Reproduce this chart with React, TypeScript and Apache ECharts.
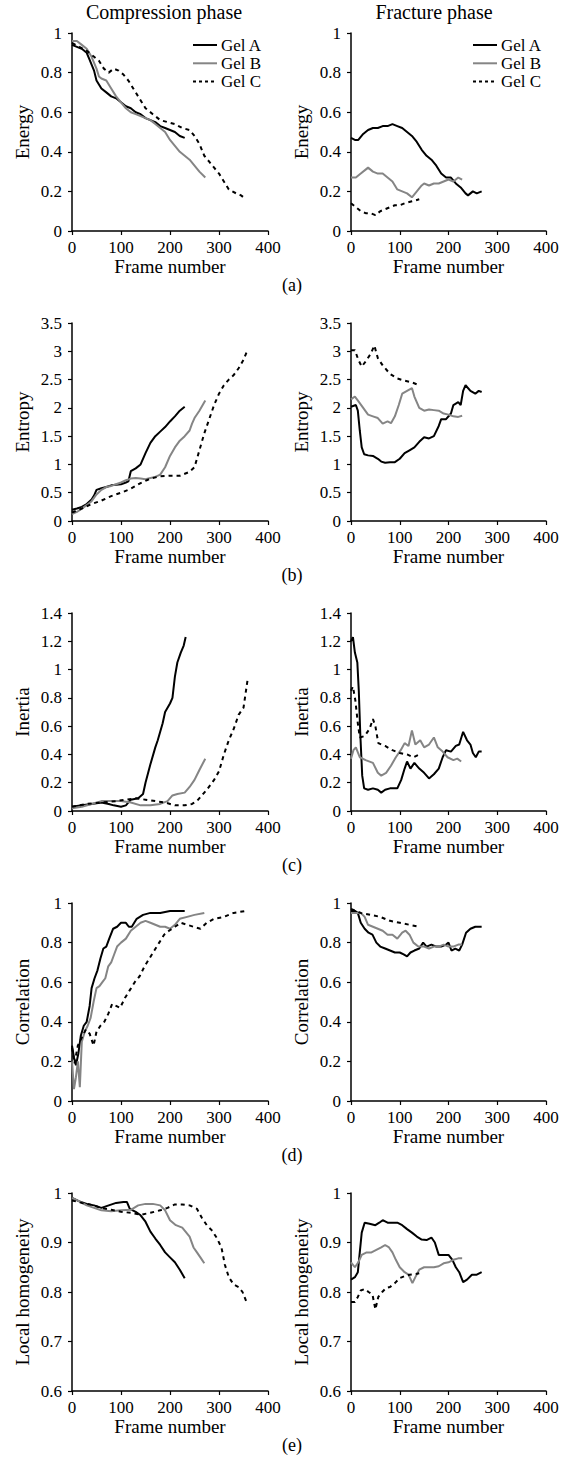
import React, { useEffect, useRef } from "react";
import * as echarts from "echarts";

// ---------- DATA ----------
const seriesNames = ["Gel A", "Gel B", "Gel C"];
const columnTitles = ["Compression phase", "Fracture phase"];
const rowMetrics = ["Energy", "Entropy", "Inertia", "Correlation", "Local homogeneity"];
const rowLabels = ["(a)", "(b)", "(c)", "(d)", "(e)"];
const xTicks = [0, 100, 200, 300, 400];
const yMins = [0, 0, 0, 0, 0.6];
const yMaxs = [1, 3.5, 1.4, 1, 1];
const yIntervals = [0.2, 0.5, 0.2, 0.2, 0.1];

// (a) Energy
const compEnergyA = [[0,0.94],[10,0.93],[20,0.92],[30,0.9],[35,0.87],[40,0.84],[45,0.81],[50,0.76],[55,0.74],[60,0.72],[70,0.7],[80,0.68],[90,0.67],[100,0.65],[110,0.63],[120,0.62],[130,0.6],[140,0.59],[150,0.57],[160,0.56],[170,0.55],[180,0.53],[190,0.52],[200,0.51],[210,0.5],[220,0.48],[230,0.47]];
const compEnergyB = [[0,0.96],[10,0.96],[20,0.94],[30,0.92],[40,0.88],[50,0.82],[55,0.78],[60,0.77],[70,0.76],[80,0.72],[90,0.68],[100,0.65],[110,0.62],[120,0.6],[130,0.59],[140,0.58],[150,0.57],[160,0.56],[170,0.54],[180,0.52],[190,0.5],[200,0.46],[210,0.43],[220,0.4],[230,0.38],[240,0.36],[250,0.33],[260,0.3],[272,0.27]];
const compEnergyC = [[0,0.95],[15,0.93],[30,0.91],[45,0.88],[55,0.86],[65,0.82],[75,0.8],[85,0.82],[95,0.81],[105,0.79],[115,0.76],[125,0.72],[135,0.68],[150,0.62],[165,0.59],[180,0.56],[195,0.55],[210,0.54],[225,0.52],[240,0.51],[250,0.48],[260,0.44],[270,0.38],[280,0.35],[290,0.32],[300,0.29],[310,0.25],[320,0.21],[335,0.19],[345,0.18],[355,0.16]];
const fracEnergyA = [[0,0.47],[8,0.46],[15,0.46],[25,0.49],[35,0.51],[45,0.52],[55,0.52],[65,0.53],[75,0.53],[85,0.54],[95,0.53],[105,0.52],[115,0.5],[125,0.48],[135,0.45],[145,0.41],[155,0.38],[165,0.36],[175,0.33],[185,0.29],[195,0.27],[205,0.27],[215,0.24],[225,0.22],[235,0.19],[240,0.18],[250,0.2],[258,0.19],[268,0.2]];
const fracEnergyB = [[0,0.27],[10,0.27],[20,0.29],[30,0.31],[35,0.32],[45,0.3],[55,0.29],[65,0.29],[75,0.27],[85,0.25],[95,0.21],[105,0.2],[115,0.19],[125,0.17],[135,0.2],[145,0.23],[150,0.24],[160,0.23],[170,0.24],[180,0.24],[190,0.25],[200,0.26],[210,0.25],[220,0.27],[228,0.26]];
const fracEnergyC = [[0,0.14],[10,0.12],[20,0.1],[30,0.09],[40,0.09],[50,0.08],[60,0.1],[70,0.11],[80,0.12],[90,0.13],[100,0.13],[110,0.14],[125,0.15],[140,0.16]];

// (b) Entropy
const compEntropyA = [[0,0.2],[10,0.22],[20,0.25],[30,0.3],[40,0.38],[45,0.45],[50,0.55],[60,0.58],[70,0.6],[80,0.63],[90,0.64],[100,0.65],[110,0.68],[115,0.7],[120,0.88],[130,0.93],[140,1.0],[150,1.2],[160,1.38],[170,1.5],[180,1.58],[190,1.66],[200,1.76],[210,1.85],[220,1.95],[230,2.02]];
const compEntropyB = [[0,0.12],[10,0.16],[20,0.22],[30,0.28],[40,0.35],[50,0.47],[60,0.55],[70,0.6],[80,0.62],[90,0.65],[100,0.68],[110,0.72],[120,0.75],[130,0.76],[140,0.75],[150,0.74],[160,0.76],[170,0.78],[180,0.82],[190,0.95],[200,1.15],[210,1.3],[220,1.42],[230,1.5],[240,1.6],[245,1.72],[250,1.82],[260,1.95],[272,2.13]];
const compEntropyC = [[0,0.15],[20,0.22],[40,0.3],[60,0.36],[80,0.44],[100,0.5],[120,0.57],[140,0.67],[160,0.75],[180,0.79],[200,0.8],[220,0.8],[240,0.87],[250,0.95],[260,1.25],[270,1.55],[280,1.8],[290,2.05],[300,2.25],[310,2.4],[320,2.5],[330,2.58],[340,2.7],[350,2.85],[358,3.02]];
const fracEntropyA = [[0,2.02],[10,2.05],[14,1.95],[18,1.6],[22,1.3],[27,1.18],[35,1.16],[45,1.15],[55,1.1],[62,1.05],[70,1.03],[80,1.04],[90,1.04],[100,1.1],[110,1.2],[120,1.25],[130,1.3],[140,1.4],[150,1.48],[160,1.46],[170,1.5],[180,1.68],[185,1.8],[195,1.8],[205,1.9],[210,2.05],[220,2.1],[225,2.05],[230,2.3],[235,2.4],[245,2.3],[255,2.25],[262,2.3],[268,2.28]];
const fracEntropyB = [[0,2.15],[8,2.2],[15,2.12],[25,2.0],[35,1.88],[45,1.85],[55,1.82],[65,1.72],[75,1.76],[82,1.73],[90,1.85],[98,2.05],[105,2.25],[115,2.3],[125,2.35],[130,2.2],[140,2.0],[150,1.95],[160,1.97],[170,1.96],[180,1.95],[190,1.9],[200,1.88],[210,1.85],[220,1.84],[228,1.86]];
const fracEntropyC = [[0,3.02],[8,3.02],[15,2.85],[22,2.73],[30,2.82],[40,2.95],[48,3.1],[55,2.88],[65,2.75],[80,2.6],[95,2.52],[110,2.48],[125,2.45],[140,2.4]];

// (c) Inertia
const compInertiaA = [[0,0.03],[20,0.04],[40,0.05],[60,0.06],[75,0.05],[85,0.04],[100,0.03],[110,0.04],[120,0.08],[135,0.09],[145,0.12],[150,0.2],[160,0.33],[170,0.45],[175,0.5],[185,0.62],[190,0.7],[200,0.76],[205,0.8],[210,0.95],[215,1.05],[222,1.12],[228,1.17],[232,1.23]];
const compInertiaB = [[0,0.02],[20,0.03],[40,0.05],[60,0.07],[80,0.07],[100,0.07],[120,0.06],[140,0.04],[160,0.04],[180,0.05],[195,0.07],[205,0.11],[215,0.12],[230,0.13],[240,0.17],[250,0.22],[260,0.29],[272,0.37]];
const compInertiaC = [[0,0.03],[30,0.05],[60,0.06],[90,0.07],[110,0.08],[130,0.09],[150,0.08],[170,0.07],[190,0.06],[210,0.04],[230,0.04],[245,0.05],[255,0.07],[265,0.11],[275,0.15],[290,0.22],[300,0.28],[310,0.4],[320,0.5],[330,0.58],[340,0.68],[350,0.73],[358,0.92]];
const fracInertiaA = [[0,1.2],[4,1.23],[8,1.12],[13,1.05],[16,0.85],[19,0.55],[23,0.25],[27,0.16],[35,0.15],[45,0.16],[55,0.15],[62,0.13],[70,0.15],[80,0.16],[95,0.16],[103,0.22],[110,0.3],[115,0.35],[122,0.3],[130,0.34],[140,0.3],[150,0.27],[160,0.23],[170,0.26],[180,0.3],[188,0.38],[195,0.43],[205,0.42],[215,0.46],[222,0.47],[230,0.56],[238,0.5],[245,0.47],[250,0.41],[256,0.38],[262,0.42],[268,0.42]];
const fracInertiaB = [[0,0.37],[5,0.43],[10,0.45],[18,0.38],[30,0.36],[45,0.34],[55,0.27],[62,0.25],[72,0.27],[82,0.32],[92,0.38],[102,0.43],[110,0.48],[118,0.46],[125,0.57],[132,0.47],[142,0.5],[150,0.45],[160,0.47],[170,0.52],[178,0.45],[188,0.42],[198,0.38],[210,0.36],[218,0.37],[226,0.35]];
const fracInertiaC = [[0,0.85],[4,0.88],[9,0.78],[14,0.62],[18,0.52],[28,0.53],[38,0.58],[45,0.65],[50,0.6],[56,0.48],[70,0.46],[85,0.43],[100,0.41],[115,0.4],[128,0.38],[140,0.4]];

// (d) Correlation
const compCorrA = [[0,0.28],[4,0.22],[8,0.18],[13,0.24],[18,0.33],[24,0.38],[30,0.4],[36,0.48],[40,0.57],[46,0.62],[52,0.66],[58,0.72],[64,0.77],[70,0.78],[76,0.82],[84,0.87],[92,0.88],[100,0.9],[110,0.9],[116,0.88],[122,0.88],[132,0.92],[145,0.94],[160,0.95],[180,0.95],[200,0.96],[215,0.96],[230,0.96]];
const compCorrB = [[0,0.2],[4,0.06],[8,0.12],[12,0.2],[16,0.07],[20,0.3],[26,0.35],[32,0.38],[38,0.42],[44,0.5],[50,0.57],[56,0.58],[62,0.6],[68,0.62],[74,0.68],[80,0.7],[86,0.74],[92,0.78],[100,0.8],[110,0.82],[120,0.86],[130,0.88],[140,0.9],[150,0.91],[160,0.9],[170,0.89],[180,0.88],[190,0.88],[200,0.87],[210,0.89],[220,0.92],[235,0.93],[250,0.94],[270,0.95]];
const compCorrC = [[0,0.27],[5,0.19],[12,0.28],[20,0.32],[28,0.36],[36,0.34],[44,0.28],[50,0.35],[58,0.38],[66,0.4],[74,0.44],[82,0.49],[90,0.48],[98,0.47],[108,0.52],[118,0.56],[128,0.6],[138,0.63],[148,0.68],[158,0.72],[168,0.76],[178,0.8],[188,0.84],[198,0.86],[210,0.88],[222,0.9],[235,0.89],[248,0.88],[262,0.87],[275,0.9],[290,0.92],[310,0.93],[330,0.95],[355,0.96]];
const fracCorrA = [[0,0.96],[8,0.96],[14,0.95],[20,0.9],[28,0.87],[36,0.85],[44,0.84],[52,0.8],[60,0.78],[70,0.77],[80,0.76],[90,0.75],[100,0.75],[108,0.74],[115,0.73],[122,0.75],[130,0.76],[140,0.77],[148,0.8],[155,0.78],[165,0.79],[175,0.78],[185,0.78],[195,0.79],[200,0.8],[206,0.76],[214,0.77],[222,0.76],[228,0.79],[236,0.85],[245,0.87],[255,0.88],[268,0.88]];
const fracCorrB = [[0,0.95],[10,0.95],[20,0.95],[28,0.93],[35,0.89],[45,0.88],[55,0.87],[65,0.86],[75,0.84],[85,0.84],[95,0.82],[105,0.85],[112,0.86],[120,0.84],[128,0.8],[138,0.78],[150,0.78],[160,0.77],[170,0.78],[180,0.78],[190,0.79],[200,0.78],[210,0.78],[220,0.79],[228,0.79]];
const fracCorrC = [[0,0.97],[20,0.95],[40,0.94],[60,0.93],[80,0.91],[100,0.9],[120,0.89],[140,0.88]];

// (e) Local homogeneity
const compHomoA = [[0,0.99],[15,0.983],[30,0.978],[45,0.975],[60,0.97],[75,0.975],[90,0.98],[105,0.982],[112,0.982],[118,0.968],[130,0.962],[140,0.955],[150,0.942],[160,0.922],[170,0.908],[180,0.895],[190,0.88],[200,0.87],[210,0.86],[220,0.845],[230,0.828]];
const compHomoB = [[0,0.99],[15,0.983],[30,0.975],[45,0.97],[60,0.965],[80,0.963],[100,0.965],[120,0.966],[135,0.975],[150,0.978],[165,0.978],[180,0.975],[190,0.965],[200,0.945],[212,0.935],[225,0.93],[240,0.912],[248,0.89],[255,0.88],[262,0.87],[270,0.858]];
const compHomoC = [[0,0.985],[20,0.98],[40,0.976],[60,0.97],[80,0.966],[100,0.962],[120,0.96],[140,0.956],[160,0.96],[180,0.965],[195,0.97],[210,0.977],[225,0.977],[240,0.975],[255,0.968],[265,0.95],[275,0.935],[285,0.925],[295,0.91],[305,0.89],[312,0.855],[320,0.83],[330,0.815],[340,0.81],[348,0.8],[358,0.775]];
const fracHomoA = [[0,0.825],[8,0.83],[14,0.84],[18,0.88],[22,0.92],[28,0.94],[38,0.938],[50,0.935],[58,0.94],[65,0.945],[75,0.94],[85,0.94],[95,0.94],[105,0.935],[115,0.927],[125,0.92],[135,0.912],[145,0.906],[155,0.905],[165,0.91],[172,0.9],[180,0.875],[190,0.875],[200,0.875],[208,0.865],[215,0.85],[222,0.84],[230,0.82],[238,0.825],[248,0.835],[258,0.835],[268,0.84]];
const fracHomoB = [[0,0.86],[8,0.85],[15,0.86],[22,0.875],[32,0.88],[42,0.88],[52,0.885],[62,0.89],[70,0.895],[78,0.89],[85,0.88],[92,0.865],[100,0.85],[110,0.84],[118,0.835],[126,0.818],[132,0.83],[140,0.845],[150,0.85],[160,0.85],[170,0.85],[180,0.852],[190,0.858],[200,0.86],[210,0.865],[220,0.868],[228,0.868]];
const fracHomoC = [[0,0.78],[8,0.78],[14,0.79],[20,0.803],[28,0.806],[36,0.8],[44,0.795],[50,0.765],[56,0.79],[64,0.8],[72,0.808],[80,0.81],[90,0.818],[100,0.828],[110,0.832],[120,0.835],[130,0.836],[140,0.838]];

const compData = [
  [compEnergyA, compEnergyB, compEnergyC],
  [compEntropyA, compEntropyB, compEntropyC],
  [compInertiaA, compInertiaB, compInertiaC],
  [compCorrA, compCorrB, compCorrC],
  [compHomoA, compHomoB, compHomoC],
];
const fracData = [
  [fracEnergyA, fracEnergyB, fracEnergyC],
  [fracEntropyA, fracEntropyB, fracEntropyC],
  [fracInertiaA, fracInertiaB, fracInertiaC],
  [fracCorrA, fracCorrB, fracCorrC],
  [fracHomoA, fracHomoB, fracHomoC],
];

// ---------- LAYOUT / STYLE ----------
const W = 571;
const H = 1459;
const FONT = "'Liberation Serif', 'DejaVu Serif', serif";
const rowTops = [33, 323, 613, 903, 1193];
const gridH = 198;
const colLefts = [72, 351];
const gridW = [196, 195];
const legendLeft = [193, 473];
const legendTop = 45;
const legendStep = 18.3;
const lineStyles = [
  { color: "#000000", width: 2, type: "solid" },
  { color: "#858585", width: 2, type: "solid" },
  { color: "#000000", width: 2, type: [4, 4] },
];

export default function App() {
  const ref = useRef<HTMLDivElement>(null);
  useEffect(() => {
    if (!ref.current) return;
    const chart = echarts.init(ref.current, null, { renderer: "svg" });
    const grid: any[] = [];
    const xAxis: any[] = [];
    const yAxis: any[] = [];
    const series: any[] = [];
    const graphic: any[] = [];
    const axisCommon = {
      axisLine: { show: true, lineStyle: { color: "#000", width: 1.5 } },
      axisTick: { show: true, inside: false, length: 4, lineStyle: { color: "#000", width: 1.2 } },
      splitLine: { show: false },
      axisLabel: { color: "#000", fontFamily: FONT, fontSize: 17 },
      nameTextStyle: { color: "#000", fontFamily: FONT, fontSize: 19 },
    };
    let gi = 0;
    for (let r = 0; r < 5; r++) {
      for (let c = 0; c < 2; c++) {
        grid.push({ left: colLefts[c], top: rowTops[r], width: gridW[c], height: gridH });
        xAxis.push({
          ...axisCommon,
          type: "value",
          gridIndex: gi,
          min: xTicks[0],
          max: xTicks[xTicks.length - 1],
          interval: 100,
          name: "Frame number",
          nameLocation: "middle",
          nameGap: 26,
          axisLabel: { ...axisCommon.axisLabel, margin: 8 },
        });
        yAxis.push({
          ...axisCommon,
          type: "value",
          gridIndex: gi,
          min: yMins[r],
          max: yMaxs[r],
          interval: yIntervals[r],
          name: rowMetrics[r],
          nameLocation: "middle",
          nameGap: 40,
          axisLabel: { ...axisCommon.axisLabel, margin: 10 },
        });
        const data = c === 0 ? compData[r] : fracData[r];
        for (let s = 0; s < 3; s++) {
          series.push({
            type: "line",
            name: seriesNames[s],
            xAxisIndex: gi,
            yAxisIndex: gi,
            data: data[s],
            showSymbol: false,
            symbol: "none",
            lineStyle: lineStyles[s],
            itemStyle: { color: lineStyles[s].color },
            silent: true,
          });
        }
        gi++;
      }
      graphic.push({
        type: "text",
        x: 292,
        y: rowTops[r] + 252,
        style: { text: rowLabels[r], fontFamily: FONT, fontSize: 18, fill: "#000", align: "center", verticalAlign: "middle" },
      });
    }
    graphic.push({
      type: "text", x: 164, y: 12,
      style: { text: columnTitles[0], fontFamily: FONT, fontSize: 20, fill: "#000", align: "center", verticalAlign: "middle" },
    });
    graphic.push({
      type: "text", x: 434, y: 12,
      style: { text: columnTitles[1], fontFamily: FONT, fontSize: 20, fill: "#000", align: "center", verticalAlign: "middle" },
    });
    // legends (row a, both panels)
    for (let c = 0; c < 2; c++) {
      for (let s = 0; s < 3; s++) {
        const y = legendTop + s * legendStep;
        const ls = lineStyles[s];
        graphic.push({
          type: "line",
          shape: { x1: legendLeft[c], y1: y, x2: legendLeft[c] + 24, y2: y },
          style: {
            stroke: ls.color,
            lineWidth: ls.width,
            lineDash: Array.isArray(ls.type) ? [3, 3] : null,
          },
        });
        graphic.push({
          type: "text",
          x: legendLeft[c] + 28,
          y,
          style: { text: seriesNames[s], fontFamily: FONT, fontSize: 17, fill: "#000", align: "left", verticalAlign: "middle" },
        });
      }
    }
    const option: any = {
      animation: false,
      backgroundColor: "#ffffff",
      grid,
      xAxis,
      yAxis,
      series,
      graphic,
    };
    chart.setOption(option);
    return () => chart.dispose();
  }, []);
  return <div ref={ref} style={{ position: "absolute", left: 0, top: 0, width: W, height: H }} />;
}
